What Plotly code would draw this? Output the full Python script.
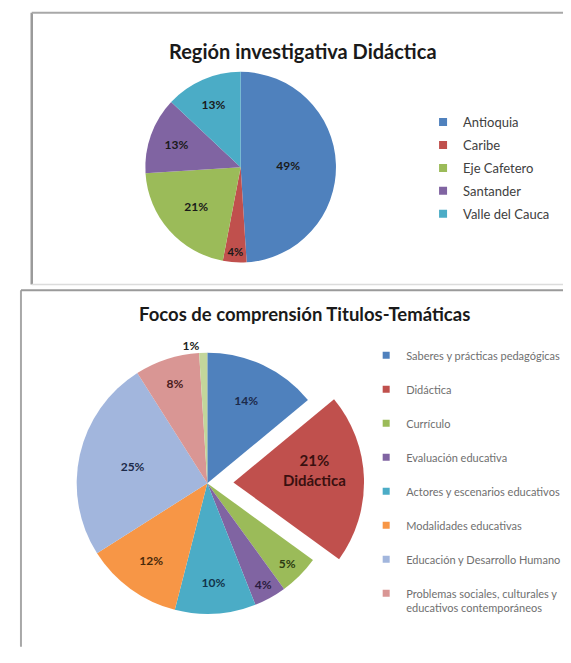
import plotly.graph_objects as go

# --- Region investigativa Didactica (top chart) ---
regiones = ["Antioquia", "Caribe", "Eje Cafetero", "Santander", "Valle del Cauca"]
regiones_pct = [49, 4, 21, 13, 13]
regiones_colores = ["#4F81BD", "#C0504D", "#9BBB59", "#8064A2", "#4BACC6"]

# --- Focos de comprension Titulos-Tematicas (bottom chart) ---
focos = [
    "Saberes y prácticas pedagógicas",
    "Didáctica",
    "Currículo",
    "Evaluación educativa",
    "Actores y escenarios educativos",
    "Modalidades educativas",
    "Educación y Desarrollo Humano",
    "Problemas sociales, culturales y educativos contemporáneos",
    "Otros",
]
focos_leyenda = [
    "Saberes y prácticas pedagógicas",
    "Didáctica",
    "Currículo",
    "Evaluación educativa",
    "Actores y escenarios educativos",
    "Modalidades educativas",
    "Educación y Desarrollo Humano",
    "Problemas sociales, culturales y<br>educativos contemporáneos",
]
focos_pct = [14, 21, 5, 4, 10, 12, 25, 8, 1]
focos_colores = ["#4F81BD", "#C0504D", "#9BBB59", "#8064A2", "#4BACC6",
                 "#F79646", "#A2B6DD", "#D99694", "#C3D69B"]
focos_texto_color = ["#1c2a4a", "#3a1010", "#2c3b12", "#2a1c40", "#12334a",
                     "#4a2a0a", "#1c2a4a", "#4a1c1c", "#222222"]

W, H = 571, 663
FONT = "Lato"

fig = go.Figure()

fig.add_trace(go.Pie(
    labels=regiones,
    values=regiones_pct,
    sort=False,
    direction="clockwise",
    rotation=0,
    marker=dict(colors=regiones_colores, line=dict(width=0)),
    texttemplate="%{value}%",
    textposition="inside",
    insidetextorientation="horizontal",
    textfont=dict(family=FONT, size=12, color="#1a1a1a", weight="bold"),
    domain=dict(x=[126 / W, 326 / W], y=[396 / H, 596 / H]),
    showlegend=False,
    hovertemplate="%{label}: %{value}%<extra></extra>",
))

# Didactica slice is pulled out and labelled with its name
pull = [0.2 if f == "Didáctica" else 0 for f in focos]
plantillas = ["%{value}%<br>%{label}<br> " if f == "Didáctica" else "%{value}%" for f in focos]
tamanos = [15 if f == "Didáctica" else 12 for f in focos]
posiciones = ["outside" if v < 2 else "inside" for v in focos_pct]

fig.add_trace(go.Pie(
    labels=focos,
    values=focos_pct,
    sort=False,
    direction="clockwise",
    rotation=0,
    pull=pull,
    marker=dict(colors=focos_colores, line=dict(width=0)),
    texttemplate=plantillas,
    textposition=posiciones,
    insidetextorientation="horizontal",
    textfont=dict(family=FONT, size=tamanos, color=focos_texto_color, weight="bold"),
    outsidetextfont=dict(family=FONT, size=12, color="#222222", weight="bold"),
    domain=dict(x=[27 / W, 357 / W], y=[0, 0.496]),
    showlegend=False,
    hovertemplate="%{label}: %{value}%<extra></extra>",
))

# legend entries, one group each so the spacing can follow the original
for nombre, color in zip(regiones, regiones_colores):
    fig.add_trace(go.Scatter(
        x=[None], y=[None], mode="markers", name=nombre,
        marker=dict(symbol="square", size=8, color=color),
        legend="legend", legendgroup=nombre, hoverinfo="skip",
    ))
for nombre, color in zip(focos_leyenda, focos_colores):
    fig.add_trace(go.Scatter(
        x=[None], y=[None], mode="markers", name=nombre,
        marker=dict(symbol="square", size=7, color=color),
        legend="legend2", legendgroup="f_" + nombre, hoverinfo="skip",
    ))

# chart frames
marcos = [
    (13, 5, 13, 290, "#9a9a9a", 2.5),
    (13, 5, 575, 5, "#a8a8a8", 2),
    (13, 290, 575, 290, "#dcdcdc", 1.5),
    (2, 296, 2, 670, "#a8a8a8", 2),
    (2, 296, 575, 296, "#9a9a9a", 2),
]
for x0, y0, x1, y1, c, w in marcos:
    fig.add_shape(type="line", xref="paper", yref="paper",
                  x0=x0 / W, x1=x1 / W, y0=1 - y0 / H, y1=1 - y1 / H,
                  line=dict(color=c, width=w))

fig.add_annotation(text="<b>Región investigativa Didáctica</b>", xref="paper", yref="paper",
                   x=290 / W, y=1 - 30 / H, showarrow=False,
                   font=dict(family=FONT, size=20, color="#1a1a1a"))
fig.add_annotation(text="<b>Focos de comprensión Titulos-Temáticas</b>", xref="paper", yref="paper",
                   x=291 / W, y=1 - 321 / H, showarrow=False,
                   font=dict(family=FONT, size=18.5, color="#1a1a1a"))

fig.update_layout(
    width=W, height=H,
    margin=dict(l=0, r=0, t=0, b=0),
    paper_bgcolor="white",
    plot_bgcolor="white",
    xaxis=dict(visible=False),
    yaxis=dict(visible=False),
    legend=dict(x=412 / W, y=1 - 104 / H, xanchor="left", yanchor="top",
                traceorder="grouped", tracegroupgap=3,
                font=dict(family=FONT, size=13, color="#404040"),
                bgcolor="rgba(0,0,0,0)"),
    legend2=dict(x=354 / W, y=1 - 350 / H, xanchor="left", yanchor="top",
                 traceorder="grouped", tracegroupgap=15, valign="top",
                 font=dict(family=FONT, size=11, color="#6f6f6f"),
                 bgcolor="rgba(0,0,0,0)"),
)

fig.write_html("out.html")
